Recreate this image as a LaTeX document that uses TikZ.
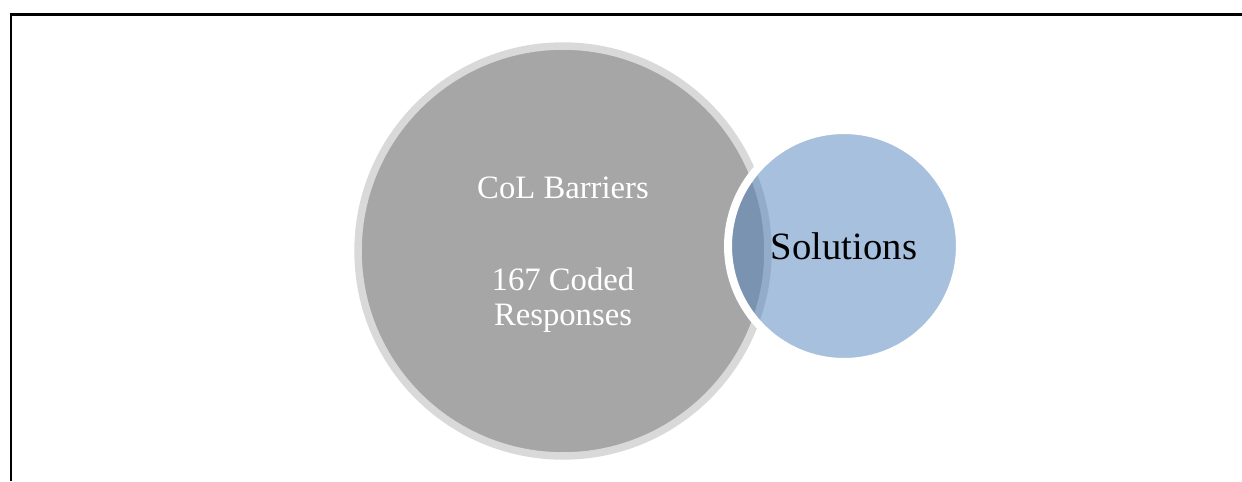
\documentclass[tikz,border=0pt]{standalone}
\usepackage{fontspec}
\setmainfont{Liberation Serif}
\definecolor{ringgray}{HTML}{D9D9D9}
\definecolor{fillgray}{HTML}{A6A6A6}
\definecolor{solblue}{HTML}{4F81BD}
\begin{document}
\begin{tikzpicture}[x=0.02cm,y=-0.02cm,
    bigtext/.style={text=white,font=\fontsize{18.6}{20}\selectfont,anchor=base},
    soltext/.style={text=black,font=\fontsize{22}{24}\selectfont}]
  \useasboundingbox (0,0) rectangle (1242,481);
  % frame
  \draw[line width=0.06cm] (11,481) -- (11,14) -- (1242,14);
  \draw
    (563,251) node (barriers) [circle,inner sep=0pt,minimum size=8.2cm,
      fill=fillgray,draw=ringgray,line width=0.15cm] {}
    (844,246) node (solutions) [circle,inner sep=0pt,minimum size=4.64cm,
      fill=solblue,fill opacity=0.5,text opacity=1,draw=white,
      line width=0.16cm,soltext] {Solutions};
  \node (barrierstitle) [bigtext] at (563,198) {CoL Barriers};
  \node (codedcount) [bigtext] at (563,290) {167 Coded};
  \node (codedresp) [bigtext] at (563,325) {Responses};
\end{tikzpicture}
\end{document}
